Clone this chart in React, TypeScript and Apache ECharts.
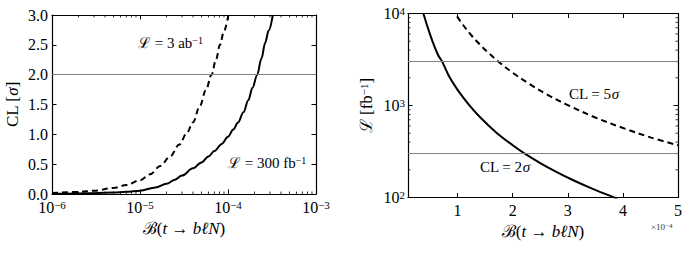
import React, { useEffect, useRef } from 'react';
import * as echarts from 'echarts';

// ---- Left panel: CL [sigma] vs branching ratio (log x) ----
const leftSolidB = [1e-6, 1.5e-6, 2e-6, 3e-6, 5e-6, 7e-6, 1e-5, 1.5e-5, 2e-5, 2.5e-5, 3e-5, 4e-5, 5e-5, 6e-5, 7e-5, 8.5e-5, 1e-4, 1.15e-4, 1.3e-4, 1.5e-4, 1.7e-4, 1.9e-4, 2.14e-4, 2.4e-4, 2.64e-4, 2.9e-4, 3.23e-4];
const leftSolidCL = [0.003, 0.006, 0.008, 0.013, 0.025, 0.037, 0.056, 0.11, 0.17, 0.24, 0.31, 0.43, 0.53, 0.63, 0.72, 0.84, 0.96, 1.08, 1.2, 1.37, 1.57, 1.78, 1.99, 2.27, 2.53, 2.74, 3.0];
const leftDashB = [1e-6, 2e-6, 3e-6, 5e-6, 7e-6, 1e-5, 1.3e-5, 1.7e-5, 2.2e-5, 2.8e-5, 3.4e-5, 4e-5, 4.8e-5, 5.6e-5, 6.5e-5, 7.3e-5, 8.1e-5, 9e-5, 1.01e-4];
const leftDashCL = [0.015, 0.035, 0.055, 0.1, 0.15, 0.23, 0.33, 0.47, 0.63, 0.83, 1.02, 1.2, 1.48, 1.74, 2.0, 2.25, 2.5, 2.73, 3.0];
const leftRefCL = [2.0];
const leftXMin = 1e-6;
const leftXMax = 1e-3;
const leftYMin = 0;
const leftYMax = 3;
const leftYStep = 0.5;

// ---- Right panel: luminosity [fb^-1] (log y) vs branching ratio [x1e-4] ----
const rightSolidB = [0.38, 0.45, 0.55, 0.65, 0.72, 0.85, 1.0, 1.2, 1.4, 1.7, 2.0, 2.22, 2.5, 2.8, 3.1, 3.4, 3.7, 3.9];
const rightSolidL = [10000, 7300, 4890, 3500, 3000, 2050, 1480, 1030, 755, 510, 370, 300, 237, 189, 154, 128, 108, 97];
const rightDashB = [0.99, 1.1, 1.25, 1.4, 1.55, 1.74, 2.0, 2.3, 2.6, 3.0, 3.5, 4.0, 4.5, 5.0];
const rightDashL = [9300, 7500, 5800, 4630, 3780, 3000, 2270, 1720, 1340, 1010, 740, 570, 450, 370];
const rightRefL = [3000, 300];
const rightXMin = 0.1;
const rightXMax = 5;
const rightYMin = 100;
const rightYMax = 10000;

const FONT = 'Liberation Serif, DejaVu Serif, serif';
const MINUS = '\u2212';

function decadeMinors(lo: number, hi: number): number[] {
  const out: number[] = [];
  for (let d = lo; d < hi * 0.999; d *= 10) {
    for (let k = 2; k <= 9; k++) out.push(+(k * d).toPrecision(3));
  }
  return out;
}

const supRich = (size: number) => ({
  sup: { fontSize: size, fontFamily: FONT, color: '#000', verticalAlign: 'top' as const },
  i: { fontStyle: 'italic' as const, fontFamily: FONT, color: '#000' },
});

function expLabel(v: number) {
  const e = Math.round(Math.log10(v));
  return '10{sup|' + (e < 0 ? MINUS + Math.abs(e) : String(e)) + '}';
}

const axisLine = { show: true, onZero: false, lineStyle: { color: '#000', width: 1.2 } };
const majorTick = { show: true, inside: true, length: 4.5, lineStyle: { color: '#000', width: 1 } };

export default function App() {
  const ref = useRef<HTMLDivElement>(null);
  useEffect(() => {
    if (!ref.current) return;
    const chart = echarts.init(ref.current, undefined, { renderer: 'svg' });

    const leftMinors = decadeMinors(leftXMin, leftXMax);
    const rightMinors = decadeMinors(rightYMin, rightYMax);

    const nameRich = {
      s: { fontSize: 17, fontFamily: FONT, color: '#000' },
      i: { fontSize: 17, fontFamily: FONT, fontStyle: 'italic' as const, color: '#000' },
      sup: { fontSize: 11, fontFamily: FONT, color: '#000', verticalAlign: 'top' as const },
    };
    const xName = '{s|\u212C(}{i|t}{s| \u2192 }{i|b\u2113N}{s|)}';

    const option: any = {
      animation: false,
      backgroundColor: '#fff',
      grid: [
        { left: 52, top: 15, width: 264, height: 179 },
        { left: 408, top: 13.5, width: 271, height: 184 },
      ],
      xAxis: [
        {
          gridIndex: 0, type: 'log', logBase: 10, min: leftXMin, max: leftXMax, position: 'bottom',
          axisLine, axisTick: majorTick, splitLine: { show: false },
          axisLabel: {
            formatter: expLabel, margin: 5, color: '#000', fontSize: 16, fontFamily: FONT,
            showMinLabel: true, showMaxLabel: true, rich: supRich(11),
          },
          name: xName, nameLocation: 'middle', nameGap: 21,
          nameTextStyle: { fontSize: 17, fontFamily: FONT, color: '#000', rich: nameRich },
        },
        {
          gridIndex: 0, type: 'log', logBase: 10, min: leftXMin, max: leftXMax, position: 'top',
          axisLine, axisTick: majorTick, axisLabel: { show: false }, splitLine: { show: false },
        },
        {
          gridIndex: 1, type: 'value', min: rightXMin, max: rightXMax, splitNumber: 5, minInterval: 1,
          position: 'bottom', axisLine, axisTick: majorTick, splitLine: { show: false },
          axisLabel: {
            formatter: (v: number) => (Math.abs(v - Math.round(v)) < 1e-9 ? String(Math.round(v)) : ''),
            margin: 5, color: '#000', fontSize: 16, fontFamily: FONT, showMinLabel: true, showMaxLabel: true,
          },
          name: xName, nameLocation: 'middle', nameGap: 16,
          nameTextStyle: { fontSize: 17, fontFamily: FONT, color: '#000', rich: nameRich },
        },
        {
          gridIndex: 1, type: 'value', min: rightXMin, max: rightXMax, splitNumber: 5, minInterval: 1,
          position: 'top', axisLine, axisTick: majorTick, axisLabel: { show: false }, splitLine: { show: false },
        },
      ],
      yAxis: [
        {
          gridIndex: 0, type: 'value', min: leftYMin, max: leftYMax, interval: leftYStep, position: 'left',
          axisLine, axisTick: majorTick, splitLine: { show: false },
          axisLabel: { formatter: (v: number) => v.toFixed(1), margin: 4, color: '#000', fontSize: 16, fontFamily: FONT },
          name: '{s|CL [}{i|\u03C3}{s|]}', nameLocation: 'middle', nameGap: 31, nameRotate: 90,
          nameTextStyle: { fontSize: 17, fontFamily: FONT, color: '#000', rich: nameRich },
        },
        {
          gridIndex: 0, type: 'value', min: leftYMin, max: leftYMax, interval: leftYStep, position: 'right',
          axisLine, axisTick: majorTick, axisLabel: { show: false }, splitLine: { show: false },
        },
        {
          gridIndex: 1, type: 'log', logBase: 10, min: rightYMin, max: rightYMax, position: 'left',
          axisLine, axisTick: majorTick, splitLine: { show: false },
          axisLabel: {
            formatter: expLabel, margin: 3, color: '#000', fontSize: 16, fontFamily: FONT,
            showMinLabel: true, showMaxLabel: true, rich: supRich(11),
          },
          name: '{s|\u2112 [fb}{sup|' + MINUS + '1}{s|]}', nameLocation: 'middle', nameGap: 33, nameRotate: 90,
          nameTextStyle: { fontSize: 17, fontFamily: FONT, color: '#000', rich: nameRich },
        },
        {
          gridIndex: 1, type: 'log', logBase: 10, min: rightYMin, max: rightYMax, position: 'right',
          axisLine, axisTick: majorTick, axisLabel: { show: false }, splitLine: { show: false },
        },
      ],
      series: [
        {
          type: 'line', xAxisIndex: 0, yAxisIndex: 0, showSymbol: false, smooth: 0.35, smoothMonotone: 'x',
          data: leftSolidB.map((b, i) => [b, leftSolidCL[i]]),
          lineStyle: { color: '#000', width: 2 }, clip: true,
          markLine: {
            silent: true, symbol: ['none', 'none'], label: { show: false },
            lineStyle: { color: '#808080', width: 1, type: 'solid' },
            data: leftRefCL.map((v) => ({ yAxis: v })),
          },
        },
        {
          type: 'line', xAxisIndex: 0, yAxisIndex: 0, showSymbol: false, smooth: 0.35, smoothMonotone: 'x',
          data: leftDashB.map((b, i) => [b, leftDashCL[i]]),
          lineStyle: { color: '#000', width: 2, type: [6, 4] }, clip: true,
        },
        {
          type: 'line', xAxisIndex: 2, yAxisIndex: 2, showSymbol: false, smooth: 0.35,
          data: rightSolidB.map((b, i) => [b, rightSolidL[i]]),
          lineStyle: { color: '#000', width: 2 }, clip: true,
          markLine: {
            silent: true, symbol: ['none', 'none'], label: { show: false },
            lineStyle: { color: '#808080', width: 1, type: 'solid' },
            data: rightRefL.map((v) => ({ yAxis: v })),
          },
        },
        {
          type: 'line', xAxisIndex: 2, yAxisIndex: 2, showSymbol: false, smooth: 0.35,
          data: rightDashB.map((b, i) => [b, rightDashL[i]]),
          lineStyle: { color: '#000', width: 2, type: [6, 4] }, clip: true,
        },
        {
          type: 'custom', xAxisIndex: 0, yAxisIndex: 0, silent: true,
          data: leftMinors.map((v) => [v, leftYMin]),
          renderItem: (params: any, api: any) => {
            const b = api.coord([api.value(0), leftYMin]);
            const t = api.coord([api.value(0), leftYMax]);
            const st = { stroke: '#000', lineWidth: 0.8 };
            return {
              type: 'group', children: [
                { type: 'line', shape: { x1: b[0], y1: b[1], x2: b[0], y2: b[1] - 2.5 }, style: st },
                { type: 'line', shape: { x1: t[0], y1: t[1], x2: t[0], y2: t[1] + 2.5 }, style: st },
              ],
            };
          },
        },
        {
          type: 'custom', xAxisIndex: 2, yAxisIndex: 2, silent: true,
          data: rightMinors.map((v) => [rightXMin, v]),
          renderItem: (params: any, api: any) => {
            const l = api.coord([rightXMin, api.value(1)]);
            const r = api.coord([rightXMax, api.value(1)]);
            const st = { stroke: '#000', lineWidth: 0.8 };
            return {
              type: 'group', children: [
                { type: 'line', shape: { x1: l[0], y1: l[1], x2: l[0] + 2.5, y2: l[1] }, style: st },
                { type: 'line', shape: { x1: r[0], y1: r[1], x2: r[0] - 2.5, y2: r[1] }, style: st },
              ],
            };
          },
        },
      ],
      graphic: [
        {
          type: 'text', x: 138, y: 43,
          style: { text: '\u2112 = 3 ab{sup|' + MINUS + '1}', fontSize: 15, fontFamily: FONT, fill: '#000', verticalAlign: 'middle', rich: supRich(10) },
        },
        {
          type: 'text', x: 228, y: 163,
          style: { text: '\u2112 = 300 fb{sup|' + MINUS + '1}', fontSize: 15, fontFamily: FONT, fill: '#000', verticalAlign: 'middle', rich: supRich(10) },
        },
        {
          type: 'text', x: 569, y: 94,
          style: { text: 'CL = 5{i|\u03C3}', fontSize: 15, fontFamily: FONT, fill: '#000', verticalAlign: 'middle', rich: { i: { fontSize: 15, fontStyle: 'italic', fontFamily: FONT, fill: '#000' } } },
        },
        {
          type: 'text', x: 480, y: 167,
          style: { text: 'CL = 2{i|\u03C3}', fontSize: 15, fontFamily: FONT, fill: '#000', verticalAlign: 'middle', rich: { i: { fontSize: 15, fontStyle: 'italic', fontFamily: FONT, fill: '#000' } } },
        },
        {
          type: 'text', x: 651, y: 227,
          style: { text: '\u00D710{sup|' + MINUS + '4}', fontSize: 9, fontFamily: FONT, fill: '#333', verticalAlign: 'middle', rich: supRich(7) },
        },
      ],
    };
    chart.setOption(option);
    return () => chart.dispose();
  }, []);
  return <div ref={ref} style={{ position: 'fixed', left: 0, top: 0, width: 685, height: 258 }} />;
}
